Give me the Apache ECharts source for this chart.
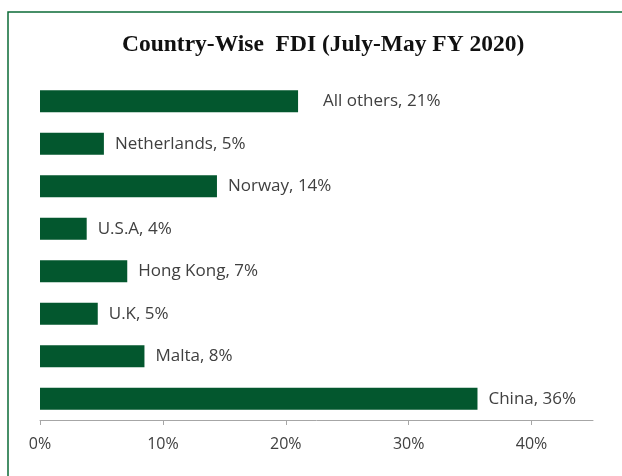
<!DOCTYPE html>
<html>
<head>
<meta charset="utf-8">
<script src="https://cdn.jsdelivr.net/npm/echarts@6/dist/echarts.min.js"></script>
<style>
  html, body { margin: 0; padding: 0; background: #fff; }
  #chart { width: 622px; height: 476px; }
</style>
</head>
<body>
<div id="chart"></div>
<script>
// 数据
var countries = ['All others', 'Netherlands', 'Norway', 'U.S.A', 'Hong Kong', 'U.K', 'Malta', 'China'];
var shares = [21.0, 5.2, 14.4, 3.8, 7.1, 4.7, 8.5, 35.6];
var shareLabels = ['21%', '5%', '14%', '4%', '7%', '5%', '8%', '36%'];
var tickValues = [0, 10, 20, 30, 40];

var chart = echarts.init(document.getElementById('chart'), null, { renderer: 'canvas' });

// 柱子数据（第一个标签离得远一点）
var barData = shares.map(function (v, i) {
    var item = { value: v };
    if (i === 0) item.label = { distance: 25 };
    return item;
});

var option = {
    animation: false,
    graphic: [{
        type: 'rect',
        shape: { x: 8, y: 12, width: 700, height: 600 },
        style: { fill: 'none', stroke: '#0b6b37', lineWidth: 1.5 },
        silent: true
    }],
    title: {
        text: 'Country-Wise  FDI (July-May FY 2020)',
        left: 117,
        top: 28,
        textStyle: {
            fontFamily: 'Liberation Serif',
            fontWeight: 'bold',
            fontSize: 23.5,
            color: '#111'
        }
    },
    grid: { left: 40, right: 29, top: 80, bottom: 56, containLabel: false },
    xAxis: {
        type: 'value',
        min: 0,
        max: 45,
        interval: 10,
        axisLine: { show: true, lineStyle: { color: '#a6a6a6', width: 1 } },
        axisTick: { show: true, length: 5, lineStyle: { color: '#a6a6a6' }, customValues: tickValues },
        axisLabel: {
            customValues: tickValues,
            formatter: '{value}%',
            color: '#404040',
            fontFamily: 'Open Sans',
            fontSize: 16,
            margin: 16
        },
        splitLine: { show: false }
    },
    yAxis: {
        type: 'category',
        inverse: true,
        data: countries,
        axisLine: { show: false },
        axisTick: { show: false },
        axisLabel: { show: false }
    },
    series: [{
        type: 'bar',
        data: barData,
        barWidth: 22,
        itemStyle: { color: '#03572e' },
        label: {
            show: true,
            position: 'right',
            distance: 11,
            color: '#404040',
            fontFamily: 'Open Sans',
            fontSize: 17,
            formatter: function (p) {
                return countries[p.dataIndex] + ', ' + shareLabels[p.dataIndex];
            }
        }
    }]
};

chart.setOption(option);
</script>
</body>
</html>
